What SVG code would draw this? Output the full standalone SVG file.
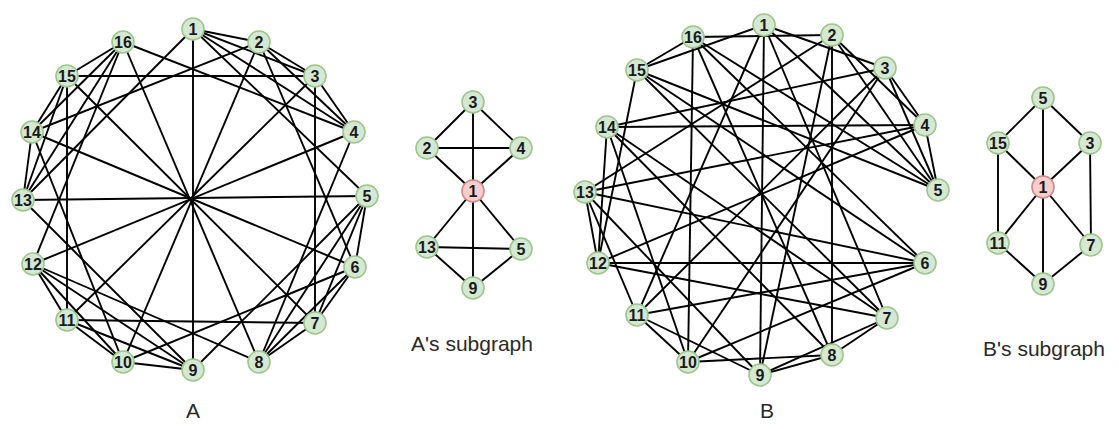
<svg xmlns="http://www.w3.org/2000/svg" width="1119" height="429" viewBox="0 0 1119 429">
<style>
.bg{fill:#fff}
.e line{stroke:#000;stroke-width:1.9}
.n circle{fill:#d5e8d4;stroke:#9cc68a;stroke-width:1.6}
.n.c circle{fill:#f8cecc;stroke:#d08a87}
.n text{font-family:"Liberation Sans",Arial,sans-serif;font-size:16px;font-weight:bold;fill:#1a1a1a;text-anchor:middle}
.cap{font-family:"Liberation Sans",Arial,sans-serif;font-size:21px;fill:#2a2a2a;text-anchor:middle}
</style>
<rect class="bg" x="0" y="0" width="1119" height="429"/>
<g id="edges-A" class="e">
<line x1="193" y1="29" x2="259" y2="42"/><line x1="193" y1="29" x2="315" y2="76"/><line x1="193" y1="29" x2="354" y2="132"/><line x1="259" y1="42" x2="315" y2="76"/><line x1="259" y1="42" x2="354" y2="132"/><line x1="315" y1="76" x2="354" y2="132"/>
<line x1="367" y1="196" x2="355" y2="267"/><line x1="367" y1="196" x2="315" y2="323"/><line x1="367" y1="196" x2="259" y2="362"/><line x1="355" y1="267" x2="315" y2="323"/><line x1="355" y1="267" x2="259" y2="362"/><line x1="315" y1="323" x2="259" y2="362"/>
<line x1="193" y1="370" x2="123" y2="362"/><line x1="193" y1="370" x2="67" y2="320"/><line x1="193" y1="370" x2="33" y2="264"/><line x1="123" y1="362" x2="67" y2="320"/><line x1="123" y1="362" x2="33" y2="264"/><line x1="67" y1="320" x2="33" y2="264"/>
<line x1="23" y1="200" x2="32" y2="132"/><line x1="23" y1="200" x2="67" y2="76"/><line x1="23" y1="200" x2="123" y2="42"/><line x1="32" y1="132" x2="67" y2="76"/><line x1="32" y1="132" x2="123" y2="42"/><line x1="67" y1="76" x2="123" y2="42"/>
<line x1="193" y1="29" x2="367" y2="196"/><line x1="193" y1="29" x2="193" y2="370"/><line x1="193" y1="29" x2="23" y2="200"/><line x1="367" y1="196" x2="193" y2="370"/><line x1="367" y1="196" x2="23" y2="200"/><line x1="193" y1="370" x2="23" y2="200"/>
<line x1="259" y1="42" x2="355" y2="267"/><line x1="259" y1="42" x2="123" y2="362"/><line x1="259" y1="42" x2="32" y2="132"/><line x1="355" y1="267" x2="123" y2="362"/><line x1="355" y1="267" x2="32" y2="132"/><line x1="123" y1="362" x2="32" y2="132"/>
<line x1="315" y1="76" x2="315" y2="323"/><line x1="315" y1="76" x2="67" y2="320"/><line x1="315" y1="76" x2="67" y2="76"/><line x1="315" y1="323" x2="67" y2="320"/><line x1="315" y1="323" x2="67" y2="76"/><line x1="67" y1="320" x2="67" y2="76"/>
<line x1="354" y1="132" x2="259" y2="362"/><line x1="354" y1="132" x2="33" y2="264"/><line x1="354" y1="132" x2="123" y2="42"/><line x1="259" y1="362" x2="33" y2="264"/><line x1="259" y1="362" x2="123" y2="42"/><line x1="33" y1="264" x2="123" y2="42"/>
</g>
<g id="edges-Asub" class="e">
<line x1="473" y1="191" x2="473" y2="102"/><line x1="473" y1="191" x2="427" y2="148"/><line x1="473" y1="191" x2="521" y2="148"/><line x1="473" y1="191" x2="427" y2="247"/><line x1="473" y1="191" x2="521" y2="249"/><line x1="473" y1="191" x2="473" y2="288"/>
<line x1="427" y1="148" x2="473" y2="102"/><line x1="473" y1="102" x2="521" y2="148"/><line x1="427" y1="148" x2="521" y2="148"/><line x1="427" y1="247" x2="473" y2="288"/><line x1="473" y1="288" x2="521" y2="249"/><line x1="427" y1="247" x2="521" y2="249"/>
</g>
<g id="edges-B" class="e">
<line x1="764" y1="25" x2="885" y2="68"/><line x1="764" y1="25" x2="938" y2="190"/><line x1="764" y1="25" x2="887" y2="318"/><line x1="764" y1="25" x2="760" y2="375"/><line x1="764" y1="25" x2="637" y2="315"/><line x1="764" y1="25" x2="637" y2="70"/>
<line x1="832" y1="35" x2="693" y2="37"/><line x1="832" y1="35" x2="832" y2="355"/><line x1="832" y1="35" x2="925" y2="125"/><line x1="832" y1="35" x2="938" y2="190"/><line x1="832" y1="35" x2="760" y2="375"/><line x1="832" y1="35" x2="585" y2="192"/>
<line x1="885" y1="68" x2="925" y2="125"/><line x1="885" y1="68" x2="938" y2="190"/><line x1="885" y1="68" x2="607" y2="127"/><line x1="885" y1="68" x2="688" y2="362"/><line x1="885" y1="68" x2="637" y2="315"/>
<line x1="925" y1="125" x2="938" y2="190"/><line x1="925" y1="125" x2="607" y2="127"/><line x1="925" y1="125" x2="585" y2="192"/><line x1="925" y1="125" x2="598" y2="263"/>
<line x1="938" y1="190" x2="637" y2="70"/><line x1="938" y1="190" x2="693" y2="37"/>
<line x1="925" y1="263" x2="598" y2="263"/><line x1="925" y1="263" x2="585" y2="192"/><line x1="925" y1="263" x2="693" y2="37"/><line x1="925" y1="263" x2="637" y2="70"/><line x1="925" y1="263" x2="637" y2="315"/><line x1="925" y1="263" x2="688" y2="362"/>
<line x1="887" y1="318" x2="832" y2="355"/><line x1="887" y1="318" x2="760" y2="375"/><line x1="887" y1="318" x2="607" y2="127"/><line x1="887" y1="318" x2="598" y2="263"/><line x1="887" y1="318" x2="637" y2="70"/>
<line x1="832" y1="355" x2="688" y2="362"/><line x1="832" y1="355" x2="760" y2="375"/><line x1="832" y1="355" x2="607" y2="127"/><line x1="832" y1="355" x2="693" y2="37"/>
<line x1="760" y1="375" x2="637" y2="315"/><line x1="760" y1="375" x2="585" y2="192"/>
<line x1="688" y1="362" x2="693" y2="37"/><line x1="688" y1="362" x2="637" y2="315"/><line x1="688" y1="362" x2="607" y2="127"/>
<line x1="637" y1="315" x2="585" y2="192"/>
<line x1="598" y1="263" x2="585" y2="192"/><line x1="598" y1="263" x2="607" y2="127"/><line x1="598" y1="263" x2="637" y2="70"/>
<line x1="637" y1="70" x2="693" y2="37"/>
</g>
<g id="edges-Bsub" class="e">
<line x1="1043" y1="187" x2="1043" y2="98"/><line x1="1043" y1="187" x2="998" y2="143"/><line x1="1043" y1="187" x2="1090" y2="143"/><line x1="1043" y1="187" x2="998" y2="243"/><line x1="1043" y1="187" x2="1091" y2="245"/><line x1="1043" y1="187" x2="1043" y2="284"/>
<line x1="1043" y1="98" x2="998" y2="143"/><line x1="1043" y1="98" x2="1090" y2="143"/><line x1="998" y1="143" x2="998" y2="243"/><line x1="1090" y1="143" x2="1091" y2="245"/><line x1="998" y1="243" x2="1043" y2="284"/><line x1="1043" y1="284" x2="1091" y2="245"/>
</g>
<g id="A1" class="n"><circle cx="193" cy="29" r="11"/><text x="193" y="35">1</text></g>
<g id="A2" class="n"><circle cx="259" cy="42" r="11"/><text x="259" y="48">2</text></g>
<g id="A3" class="n"><circle cx="315" cy="76" r="11"/><text x="315" y="82">3</text></g>
<g id="A4" class="n"><circle cx="354" cy="132" r="11"/><text x="354" y="138">4</text></g>
<g id="A5" class="n"><circle cx="367" cy="196" r="11"/><text x="367" y="202">5</text></g>
<g id="A6" class="n"><circle cx="355" cy="267" r="11"/><text x="355" y="273">6</text></g>
<g id="A7" class="n"><circle cx="315" cy="323" r="11"/><text x="315" y="329">7</text></g>
<g id="A8" class="n"><circle cx="259" cy="362" r="11"/><text x="259" y="368">8</text></g>
<g id="A9" class="n"><circle cx="193" cy="370" r="11"/><text x="193" y="376">9</text></g>
<g id="A10" class="n"><circle cx="123" cy="362" r="11"/><text x="123" y="368">10</text></g>
<g id="A11" class="n"><circle cx="67" cy="320" r="11"/><text x="67" y="326">11</text></g>
<g id="A12" class="n"><circle cx="33" cy="264" r="11"/><text x="33" y="270">12</text></g>
<g id="A13" class="n"><circle cx="23" cy="200" r="11"/><text x="23" y="206">13</text></g>
<g id="A14" class="n"><circle cx="32" cy="132" r="11"/><text x="32" y="138">14</text></g>
<g id="A15" class="n"><circle cx="67" cy="76" r="11"/><text x="67" y="82">15</text></g>
<g id="A16" class="n"><circle cx="123" cy="42" r="11"/><text x="123" y="48">16</text></g>
<g id="As3" class="n"><circle cx="473" cy="102" r="11"/><text x="473" y="108">3</text></g>
<g id="As2" class="n"><circle cx="427" cy="148" r="11"/><text x="427" y="154">2</text></g>
<g id="As4" class="n"><circle cx="521" cy="148" r="11"/><text x="521" y="154">4</text></g>
<g id="As1" class="n c"><circle cx="473" cy="191" r="11"/><text x="473" y="197">1</text></g>
<g id="As13" class="n"><circle cx="427" cy="247" r="11"/><text x="427" y="253">13</text></g>
<g id="As5" class="n"><circle cx="521" cy="249" r="11"/><text x="521" y="255">5</text></g>
<g id="As9" class="n"><circle cx="473" cy="288" r="11"/><text x="473" y="294">9</text></g>
<g id="B1" class="n"><circle cx="764" cy="25" r="11"/><text x="764" y="31">1</text></g>
<g id="B2" class="n"><circle cx="832" cy="35" r="11"/><text x="832" y="41">2</text></g>
<g id="B3" class="n"><circle cx="885" cy="68" r="11"/><text x="885" y="74">3</text></g>
<g id="B4" class="n"><circle cx="925" cy="125" r="11"/><text x="925" y="131">4</text></g>
<g id="B5" class="n"><circle cx="938" cy="190" r="11"/><text x="938" y="196">5</text></g>
<g id="B6" class="n"><circle cx="925" cy="263" r="11"/><text x="925" y="269">6</text></g>
<g id="B7" class="n"><circle cx="887" cy="318" r="11"/><text x="887" y="324">7</text></g>
<g id="B8" class="n"><circle cx="832" cy="355" r="11"/><text x="832" y="361">8</text></g>
<g id="B9" class="n"><circle cx="760" cy="375" r="11"/><text x="760" y="381">9</text></g>
<g id="B10" class="n"><circle cx="688" cy="362" r="11"/><text x="688" y="368">10</text></g>
<g id="B11" class="n"><circle cx="637" cy="315" r="11"/><text x="637" y="321">11</text></g>
<g id="B12" class="n"><circle cx="598" cy="263" r="11"/><text x="598" y="269">12</text></g>
<g id="B13" class="n"><circle cx="585" cy="192" r="11"/><text x="585" y="198">13</text></g>
<g id="B14" class="n"><circle cx="607" cy="127" r="11"/><text x="607" y="133">14</text></g>
<g id="B15" class="n"><circle cx="637" cy="70" r="11"/><text x="637" y="76">15</text></g>
<g id="B16" class="n"><circle cx="693" cy="37" r="11"/><text x="693" y="43">16</text></g>
<g id="Bs5" class="n"><circle cx="1043" cy="98" r="11"/><text x="1043" y="104">5</text></g>
<g id="Bs15" class="n"><circle cx="998" cy="143" r="11"/><text x="998" y="149">15</text></g>
<g id="Bs3" class="n"><circle cx="1090" cy="143" r="11"/><text x="1090" y="149">3</text></g>
<g id="Bs1" class="n c"><circle cx="1043" cy="187" r="11"/><text x="1043" y="193">1</text></g>
<g id="Bs11" class="n"><circle cx="998" cy="243" r="11"/><text x="998" y="249">11</text></g>
<g id="Bs7" class="n"><circle cx="1091" cy="245" r="11"/><text x="1091" y="251">7</text></g>
<g id="Bs9" class="n"><circle cx="1043" cy="284" r="11"/><text x="1043" y="290">9</text></g>
<text class="cap" x="193" y="418">A</text>
<text class="cap" x="472" y="351">A's subgraph</text>
<text class="cap" x="767" y="418">B</text>
<text class="cap" x="1044" y="356">B's subgraph</text>
</svg>
